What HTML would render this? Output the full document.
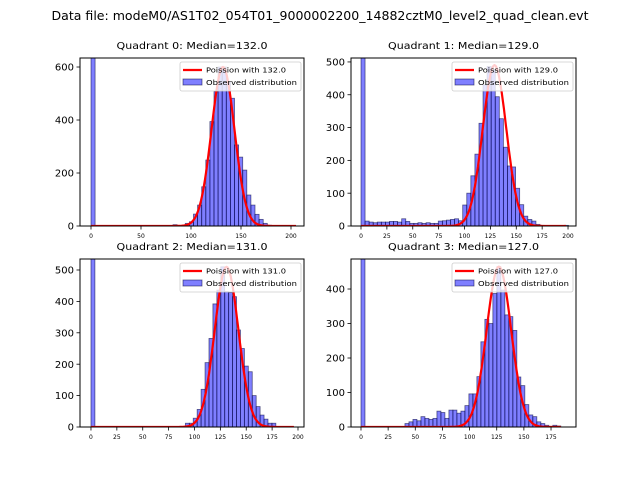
<!DOCTYPE html>
<html><head><meta charset="utf-8"><style>
body{margin:0;background:#fff}
svg{display:block;font-family:"DejaVu Sans","Liberation Sans",sans-serif}
</style></head><body>
<svg id="fig" width="640" height="480">
<text x="320" y="20" text-anchor="middle" font-size="12.5" textLength="537" lengthAdjust="spacingAndGlyphs">Data file: modeM0/AS1T02_054T01_9000002200_14882cztM0_level2_quad_clean.evt</text>
</svg>
<script>
// ---- data ----
const quadNames = ["Quadrant 0","Quadrant 1","Quadrant 2","Quadrant 3"];
const medians = [132.0, 129.0, 131.0, 127.0];
const binWidths = [4.1, 3.93, 3.8, 3.68];
const zeroBinCounts = [2000, 2000, 2000, 2000];
const q0Start = 20;
const q0Counts = [5,0,0,10,16,45,79,148,249,394,507,600,600,544,482,306,260,211,117,79,44,25,10,3];
const q1Start = 1;
const q1Counts = [15,12,10,12,12,12,14,14,12,22,14,8,8,10,8,10,8,8,15,16,18,20,22,16,64,100,153,219,313,430,486,476,394,327,240,183,180,115,65,30,20,15,5,2,1,1,1,0,0,2];
const q2Start = 24;
const q2Counts = [12,12,28,56,120,205,282,392,436,510,431,428,415,309,250,194,176,100,65,38,25,12,12];
const q3Start = 11;
const q3Counts = [10,15,22,18,30,25,22,25,46,42,25,49,49,40,46,62,96,96,146,247,312,300,387,465,397,325,320,280,145,120,65,35,30,15,10,5,2,5,3];
const curvePeaks = [600, 490, 510, 465];
const curveEnds = [205, 198, 196, 184];
const xTicks0 = [0,50,100,150,200];
const xTicks1 = [0,25,50,75,100,125,150,175,200];
const xTicks2 = [0,25,50,75,100,125,150,175,200];
const xTicks3 = [0,25,50,75,100,125,150,175];
const yTicks0 = [0,200,400,600];
const yTicks1 = [0,100,200,300,400,500];
const yTicks2 = [0,100,200,300,400,500];
const yTicks3 = [0,100,200,300,400];

// ---- layout (not data) ----
const panels = [
 {box:[80,58,304,226], xlim:[-11,213], ylim:[0,634], start:q0Start, counts:q0Counts, xt:xTicks0, yt:yTicks0},
 {box:[351,58,576,226], xlim:[-9.66,207.7], ylim:[0,512], start:q1Start, counts:q1Counts, xt:xTicks1, yt:yTicks1},
 {box:[80,259,304,427], xlim:[-10.6,205.8], ylim:[0,535], start:q2Start, counts:q2Counts, xt:xTicks2, yt:yTicks2},
 {box:[351,259,576,427], xlim:[-9.2,198], ylim:[0,487], start:q3Start, counts:q3Counts, xt:xTicks3, yt:yTicks3}
];
const NS="http://www.w3.org/2000/svg";
const fig=document.getElementById('fig');
function mk(tag,attrs,parent,text){const e=document.createElementNS(NS,tag);for(const k in attrs)e.setAttribute(k,attrs[k]);if(text!==undefined)e.textContent=text;(parent||fig).appendChild(e);return e;}

panels.forEach((p,i)=>{
 const [x0,y0,x1,y1]=p.box;
 const sx=v=>x0+(v-p.xlim[0])/(p.xlim[1]-p.xlim[0])*(x1-x0);
 const sy=v=>y1-(v-p.ylim[0])/(p.ylim[1]-p.ylim[0])*(y1-y0);
 const g=mk('g',{});
 
 
 const cid='clip'+i;
 const cp=mk('clipPath',{id:cid},g);mk('rect',{x:x0,y:y0,width:x1-x0,height:y1-y0},cp);
 const plot=mk('g',{'clip-path':'url(#'+cid+')'},g);
 const bw=binWidths[i];
 const drawBar=(k,c)=>{
  if(c<=0)return;
  const r=mk('rect',{x:sx(k*bw),y:sy(c),width:sx((k+1)*bw)-sx(k*bw),height:sy(0)-sy(c),fill:'rgba(0,0,255,0.5)',stroke:'rgba(0,0,60,0.6)','stroke-width':0.8},plot);
  
  
 };
 drawBar(0,zeroBinCounts[i]);
 p.counts.forEach((c,j)=>drawBar(p.start+j,c));
 // poisson model curve (normal approx, variance = median)
 const lam=medians[i];let d='';
 for(let x=0;x<=curveEnds[i];x+=1){const yv=curvePeaks[i]*Math.exp(-(x-lam)*(x-lam)/(2*lam));d+=(x?'L':'M')+sx(x).toFixed(1)+','+sy(yv).toFixed(1);}
 const pl=mk('path',{d:d,fill:'none',stroke:'#ff0000','stroke-width':2.2},plot);
 
 
 // frame
 const fr=mk('rect',{x:x0,y:y0,width:x1-x0,height:y1-y0,fill:'none',stroke:'#000','stroke-width':1},g);
 
 
 p.xt.forEach(t=>{const X=sx(t);mk('line',{x1:X,x2:X,y1:y1,y2:y1+3.5,stroke:'#000','stroke-width':0.8},g);
  const tl=mk('text',{x:X,y:y1+12,'font-size':6,'text-anchor':'middle'},g,String(t));
  
  });
 p.yt.forEach(t=>{const Y=sy(t);mk('line',{x1:x0-3.5,x2:x0,y1:Y,y2:Y,stroke:'#000','stroke-width':0.8},g);
  const tl=mk('text',{x:x0-6,y:Y+3.6,'font-size':10,'text-anchor':'end'},g,String(t));
  
  });
 const title=quadNames[i]+': Median='+medians[i].toFixed(1);
 const tt=mk('text',{x:(x0+x1)/2,y:y0-9,'font-size':9.5,'text-anchor':'middle',textLength:151,lengthAdjust:'spacingAndGlyphs'},g,title);
 
 
 // legend
 const lx=x1-124,ly=y0+4;
 const lg=mk('g',{},g);
 
 
 mk('rect',{x:lx,y:ly,width:121,height:29,rx:2,fill:'rgba(255,255,255,0.8)',stroke:'#ccc','stroke-width':0.8},lg);
 mk('line',{x1:lx+3,x2:lx+22,y1:ly+8,y2:ly+8,stroke:'#f00','stroke-width':2.2},lg);
 mk('text',{x:lx+26,y:ly+10.5,'font-size':7.2,textLength:80,lengthAdjust:'spacingAndGlyphs'},lg,'Poission with '+medians[i].toFixed(1));
 mk('rect',{x:lx+3,y:ly+17,width:19,height:6,fill:'rgba(0,0,255,0.5)',stroke:'rgba(0,0,60,0.6)','stroke-width':0.8},lg);
 mk('text',{x:lx+26,y:ly+23,'font-size':7.2,textLength:91,lengthAdjust:'spacingAndGlyphs'},lg,'Observed distribution');
});
</script>
</body></html>
